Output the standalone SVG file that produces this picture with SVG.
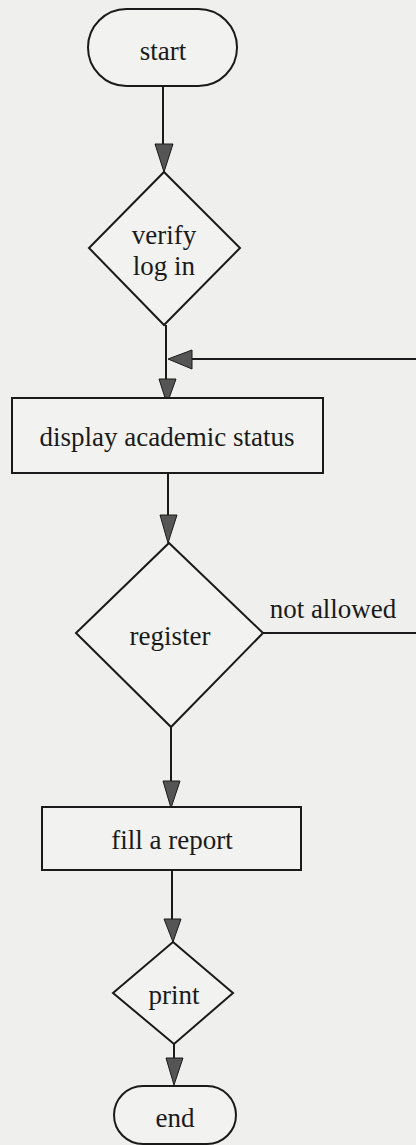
<svg xmlns="http://www.w3.org/2000/svg" width="416" height="1145" viewBox="0 0 416 1145">
<defs>
<style>
.s{fill:#f2f2f0;stroke:#1a1a1a;stroke-width:2}
.t{font-family:"Liberation Serif","Times New Roman",serif;font-size:27px;fill:#1a1a1a;text-anchor:middle}
.c{stroke:#1a1a1a;stroke-width:2;fill:none}
.a{fill:#555555;stroke:#1a1a1a;stroke-width:1}
</style>
</defs>
<rect x="0" y="0" width="416" height="1145" fill="#efefed"/>
<g id="connectors">
<line class="c" x1="163" y1="86" x2="163" y2="145"/>
<polygon class="a" points="155,144 173,144 164,172"/>
<line class="c" x1="166" y1="325" x2="166" y2="380"/>
<line class="c" x1="190" y1="359" x2="416" y2="359"/>
<polygon class="a" points="192,350 192,369 168,359"/>
<polygon class="a" points="159,379 176,379 167,404"/>
<line class="c" x1="168" y1="473" x2="168" y2="516"/>
<polygon class="a" points="160,515 177,515 168,543"/>
<line class="c" x1="263" y1="633" x2="416" y2="633"/>
<text class="t" x="333" y="618">not allowed</text>
<line class="c" x1="171" y1="727" x2="171" y2="782"/>
<polygon class="a" points="163,781 180,781 171,808"/>
<line class="c" x1="172" y1="870" x2="172" y2="920"/>
<polygon class="a" points="164,919 181,919 173,942"/>
<line class="c" x1="174" y1="1044" x2="174" y2="1059"/>
<polygon class="a" points="166,1058 183,1058 174,1085"/>
</g>
<g id="start">
<rect class="s" x="88" y="9" width="149" height="77" rx="38.5"/>
<text class="t" x="163" y="60">start</text>
</g>
<g id="verify">
<polygon class="s" points="164,172 240,248 164,325 89,248"/>
<text class="t" x="164" y="244">verify</text>
<text class="t" x="164" y="275">log in</text>
</g>
<g id="display">
<rect class="s" x="12" y="398" width="311" height="75"/>
<text class="t" x="167" y="446">display academic status</text>
</g>
<g id="register">
<polygon class="s" points="169,543 263,633 171,727 76,633"/>
<text class="t" x="170" y="645">register</text>
</g>
<g id="fill">
<rect class="s" x="42" y="807" width="259" height="63"/>
<text class="t" x="172" y="849">fill a report</text>
</g>
<g id="print">
<polygon class="s" points="173,942 233,993 174,1044 113,993"/>
<text class="t" x="174" y="1004">print</text>
</g>
<g id="end">
<rect class="s" x="114" y="1086" width="122" height="58" rx="29"/>
<text class="t" x="175" y="1127">end</text>
</g>
</svg>
